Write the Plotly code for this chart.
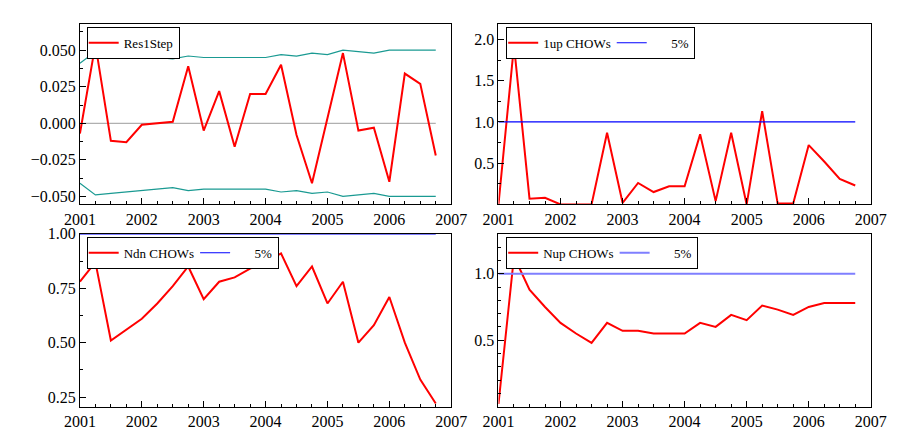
import plotly.graph_objects as go

# quarterly dates 2001Q1 .. 2006Q4
dates = [2001 + q / 4 for q in range(24)]

res1step = [-0.007, 0.054, -0.012, -0.013, -0.001, 0.000, 0.001, 0.039, -0.005, 0.022, -0.016, 0.020,
            0.020, 0.040, -0.008, -0.041, 0.004, 0.048, -0.005, -0.003, -0.040, 0.034, 0.027, -0.022]
band = [0.041, 0.049, 0.048, 0.047, 0.046, 0.045, 0.044, 0.046, 0.045, 0.045, 0.045, 0.045,
        0.045, 0.047, 0.046, 0.048, 0.047, 0.050, 0.049, 0.048, 0.050, 0.050, 0.050, 0.050]
up1_chow = [0.0, 1.93, 0.07, 0.08, 0.0, 0.0, 0.0, 0.87, 0.02, 0.26, 0.15, 0.22,
            0.22, 0.85, 0.04, 0.87, 0.0, 1.13, 0.01, 0.01, 0.72, 0.52, 0.31, 0.23]
ndn_chow = [0.78, 0.87, 0.51, 0.56, 0.61, 0.68, 0.76, 0.85, 0.70, 0.78, 0.80, 0.84,
            0.87, 0.91, 0.76, 0.85, 0.68, 0.78, 0.50, 0.58, 0.71, 0.50, 0.33, 0.22]
nup_chow = [0.02, 1.13, 0.88, 0.75, 0.63, 0.55, 0.48, 0.63, 0.57, 0.57, 0.55, 0.55,
            0.55, 0.63, 0.60, 0.69, 0.65, 0.76, 0.73, 0.69, 0.75, 0.78, 0.78, 0.78]
crit = [1.0] * 24

W, H = 899, 430
FAM = "Liberation Serif"
font = dict(family=FAM, size=16, color="black")
red = dict(color="red", width=2)
teal = dict(color="#1a9a92", width=1.2)

fig = go.Figure()

# top-left
fig.add_trace(go.Scatter(x=dates, y=[0] * 24, mode="lines", line=dict(color="#b0b0b0", width=1.2),
                         showlegend=False, xaxis="x", yaxis="y"))
fig.add_trace(go.Scatter(x=dates, y=band, mode="lines", line=teal, showlegend=False, xaxis="x", yaxis="y"))
fig.add_trace(go.Scatter(x=dates, y=[-b for b in band], mode="lines", line=teal, showlegend=False,
                         xaxis="x", yaxis="y"))
fig.add_trace(go.Scatter(x=dates, y=res1step, mode="lines", line=red, name="Res1Step",
                         xaxis="x", yaxis="y", legend="legend"))
# top-right
fig.add_trace(go.Scatter(x=dates, y=up1_chow, mode="lines", line=red, name="1up CHOWs",
                         xaxis="x2", yaxis="y2", legend="legend2"))
fig.add_trace(go.Scatter(x=dates, y=crit, mode="lines", line=dict(color="blue", width=1.2),
                         name="      5%", xaxis="x2", yaxis="y2", legend="legend2"))
# bottom-left
fig.add_trace(go.Scatter(x=dates, y=ndn_chow, mode="lines", line=red, name="Ndn CHOWs",
                         xaxis="x3", yaxis="y3", legend="legend3"))
fig.add_trace(go.Scatter(x=dates, y=crit, mode="lines", line=dict(color="blue", width=1.2),
                         name="      5%", xaxis="x3", yaxis="y3", legend="legend3"))
# bottom-right
fig.add_trace(go.Scatter(x=dates, y=nup_chow, mode="lines", line=red, name="Nup CHOWs",
                         xaxis="x4", yaxis="y4", legend="legend4"))
fig.add_trace(go.Scatter(x=dates, y=crit, mode="lines", line=dict(color="#7f7fff", width=2),
                         name="      5%", xaxis="x4", yaxis="y4", legend="legend4"))

xd = [(58 / W, 443 / W), (492 / W, 878 / W)]
yd = [(1 - 192 / H, 1 - 8 / H), (1 - 398 / H, 1 - 222 / H)]

common = dict(showline=True, linecolor="black", linewidth=1, mirror=True, ticks="inside",
              ticklen=6, tickcolor="black", showgrid=False, zeroline=False,
              tickfont=dict(family=FAM, size=16, color="black"))

layout = dict(width=W, height=H, margin=dict(l=0, r=0, t=0, b=0),
              paper_bgcolor="white", plot_bgcolor="white", font=font)

yinfo = [
    ([-0.0555, 0.068], [-0.05, -0.025, 0.0, 0.025, 0.05], ".3f", 0.0125),
    ([0.0, 2.19], [0.5, 1.0, 1.5, 2.0], ".1f", 0.25),
    ([0.206, 1.0], [0.25, 0.5, 0.75, 1.0], ".2f", 0.125),
    ([0.0, 1.30], [0.5, 1.0], ".1f", 0.1),
]
for i in range(4):
    sfx = "" if i == 0 else str(i + 1)
    col, row = i % 2, i // 2
    layout["xaxis" + sfx] = dict(common, domain=xd[col], anchor="y" + sfx, range=[2001, 2007],
                                 tickvals=list(range(2001, 2008)), ticktext=[str(v) for v in range(2001, 2008)],
                                 ticklabelstandoff=0,
                                 minor=dict(ticks="inside", ticklen=3, dtick=0.25, tickcolor="black"))
    rng, tv, fmt, mdt = yinfo[i]
    layout["yaxis" + sfx] = dict(common, domain=yd[row], anchor="x" + sfx, range=rng,
                                 tickvals=tv, tickformat=fmt,
                                 minor=dict(ticks="inside", ticklen=3, dtick=mdt, tickcolor="black"))
    lx = (65 if col == 0 else 500) / W
    ly = 1 - (11 if row == 0 else 225) / H
    layout["legend" + ("" if i == 0 else str(i + 1))] = dict(
        x=lx, y=ly, xanchor="left", yanchor="top", orientation="h",
        bgcolor="white", bordercolor="black", borderwidth=1,
        font=dict(family=FAM, size=13, color="black"),
        tracegroupgap=0, itemwidth=30, indentation=-4)

fig.update_layout(**layout)
fig.write_html("out.html")
